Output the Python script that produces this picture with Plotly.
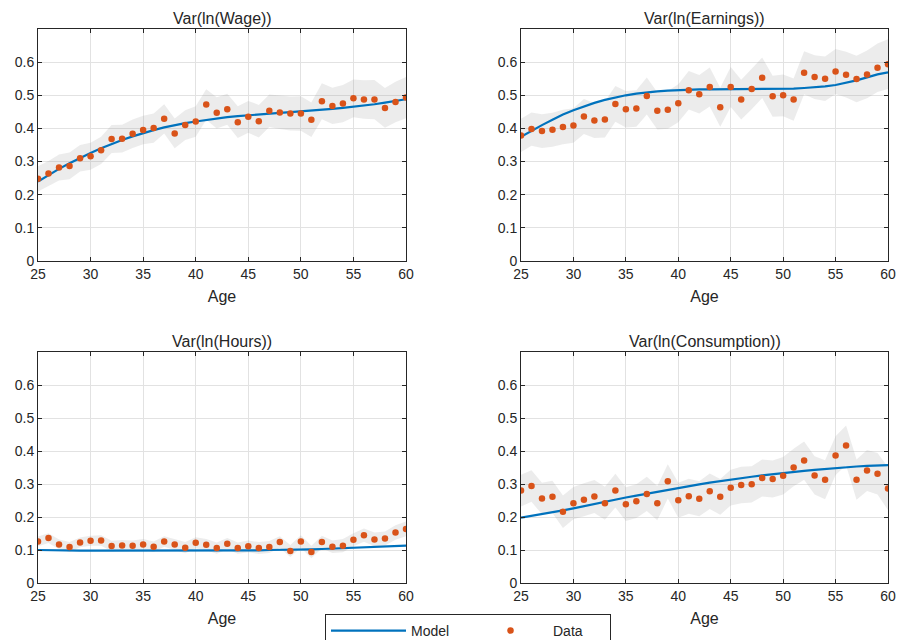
import plotly.graph_objects as go

# Ages on the horizontal axis
ages = list(range(25, 61))

# Var(ln(Wage))
wage_data = [0.248, 0.264, 0.282, 0.287, 0.310, 0.316, 0.334, 0.368, 0.369, 0.384,
             0.395, 0.401, 0.429, 0.385, 0.410, 0.421, 0.472, 0.447, 0.458, 0.419,
             0.435, 0.422, 0.453, 0.448, 0.445, 0.445, 0.426, 0.482, 0.468, 0.475,
             0.491, 0.487, 0.487, 0.462, 0.480, 0.493]
wage_model = [0.240, 0.260, 0.278, 0.295, 0.311, 0.326, 0.340, 0.353, 0.365, 0.376,
              0.386, 0.395, 0.403, 0.410, 0.416, 0.421, 0.426, 0.430, 0.434, 0.437,
              0.440, 0.443, 0.445, 0.447, 0.449, 0.451, 0.453, 0.456, 0.459, 0.462,
              0.465, 0.469, 0.473, 0.478, 0.484, 0.488]
wage_ci = [0.038, 0.038, 0.039, 0.040, 0.040, 0.041, 0.041, 0.042, 0.042, 0.043,
           0.043, 0.044, 0.044, 0.045, 0.045, 0.046, 0.046, 0.047, 0.047, 0.048,
           0.048, 0.049, 0.049, 0.050, 0.051, 0.052, 0.052, 0.054, 0.055, 0.056,
           0.057, 0.058, 0.059, 0.060, 0.061, 0.062]

# Var(ln(Earnings))
earn_data = [0.379, 0.398, 0.392, 0.396, 0.404, 0.409, 0.436, 0.424, 0.427, 0.474,
             0.458, 0.460, 0.498, 0.453, 0.456, 0.476, 0.515, 0.503, 0.525, 0.464,
             0.525, 0.487, 0.519, 0.553, 0.497, 0.500, 0.487, 0.568, 0.555, 0.550,
             0.572, 0.562, 0.549, 0.563, 0.583, 0.594]
earn_model = [0.375, 0.393, 0.410, 0.426, 0.442, 0.455, 0.467, 0.477, 0.486, 0.494,
              0.500, 0.505, 0.509, 0.512, 0.514, 0.516, 0.517, 0.518, 0.518, 0.518,
              0.518, 0.518, 0.518, 0.518, 0.518, 0.519, 0.520, 0.522, 0.524, 0.527,
              0.531, 0.537, 0.545, 0.554, 0.563, 0.569]
earn_ci = [0.050, 0.050, 0.051, 0.051, 0.052, 0.052, 0.053, 0.053, 0.054, 0.054,
           0.055, 0.055, 0.056, 0.056, 0.057, 0.057, 0.058, 0.058, 0.059, 0.059,
           0.060, 0.060, 0.061, 0.061, 0.062, 0.063, 0.064, 0.065, 0.066, 0.067,
           0.068, 0.069, 0.070, 0.072, 0.073, 0.075]

# Var(ln(Hours))
hours_data = [0.126, 0.136, 0.117, 0.109, 0.123, 0.128, 0.129, 0.112, 0.114, 0.113,
              0.117, 0.110, 0.126, 0.117, 0.107, 0.122, 0.116, 0.106, 0.119, 0.106,
              0.111, 0.106, 0.109, 0.124, 0.097, 0.126, 0.094, 0.124, 0.110, 0.113,
              0.131, 0.145, 0.132, 0.135, 0.153, 0.164]
hours_model = [0.100, 0.099, 0.099, 0.099, 0.098, 0.098, 0.098, 0.098, 0.097, 0.097,
               0.097, 0.097, 0.097, 0.097, 0.097, 0.097, 0.097, 0.098, 0.098, 0.098,
               0.099, 0.099, 0.100, 0.100, 0.101, 0.101, 0.102, 0.103, 0.104, 0.105,
               0.106, 0.107, 0.108, 0.110, 0.111, 0.113]
hours_ci = [0.015, 0.015, 0.015, 0.015, 0.015, 0.015, 0.016, 0.016, 0.016, 0.016,
            0.016, 0.016, 0.016, 0.016, 0.017, 0.017, 0.017, 0.017, 0.017, 0.017,
            0.018, 0.018, 0.018, 0.018, 0.018, 0.019, 0.019, 0.019, 0.019, 0.020,
            0.020, 0.020, 0.021, 0.021, 0.022, 0.022]

# Var(ln(Consumption))
cons_data = [0.280, 0.294, 0.256, 0.261, 0.216, 0.242, 0.252, 0.262, 0.242, 0.280,
             0.239, 0.248, 0.270, 0.242, 0.308, 0.251, 0.263, 0.255, 0.278, 0.261,
             0.289, 0.297, 0.299, 0.318, 0.315, 0.325, 0.350, 0.371, 0.326, 0.313,
             0.386, 0.417, 0.313, 0.341, 0.331, 0.286]
cons_model = [0.198, 0.203, 0.208, 0.214, 0.220, 0.226, 0.233, 0.240, 0.246, 0.253,
              0.259, 0.265, 0.271, 0.277, 0.283, 0.288, 0.294, 0.299, 0.304, 0.309,
              0.314, 0.318, 0.322, 0.326, 0.330, 0.334, 0.337, 0.340, 0.343, 0.346,
              0.349, 0.351, 0.353, 0.355, 0.356, 0.357]
cons_ci = [0.048, 0.048, 0.048, 0.049, 0.049, 0.049, 0.050, 0.050, 0.050, 0.051,
           0.051, 0.051, 0.052, 0.052, 0.052, 0.053, 0.053, 0.053, 0.054, 0.054,
           0.054, 0.055, 0.055, 0.056, 0.056, 0.057, 0.057, 0.058, 0.058, 0.059,
           0.059, 0.060, 0.061, 0.062, 0.063, 0.065]

titles = ["Var(ln(Wage))", "Var(ln(Earnings))", "Var(ln(Hours))", "Var(ln(Consumption))"]
x_ticks = [25, 30, 35, 40, 45, 50, 55, 60]
y_ticks = [0, 0.1, 0.2, 0.3, 0.4, 0.5, 0.6]

panels = [
    (wage_data, wage_model, wage_ci),
    (earn_data, earn_model, earn_ci),
    (hours_data, hours_model, hours_ci),
    (cons_data, cons_model, cons_ci),
]

W, H = 897, 640
# plot-area boxes in pixels: (left, right, top, bottom)
boxes = [
    (38, 406, 29, 261),
    (521, 888, 29, 261),
    (38, 406, 352, 583),
    (521, 888, 352, 583),
]

BLUE = "#0072BD"
ORANGE = "#D95319"
INK = "#262626"
FONT = "Liberation Sans, Arial, sans-serif"

fig = go.Figure()
layout = {}

for i, ((data, model, ci), title, box) in enumerate(zip(panels, titles, boxes)):
    n = "" if i == 0 else str(i + 1)
    xa, ya = "x" + n, "y" + n
    lower = [d - c for d, c in zip(data, ci)]
    upper = [d + c for d, c in zip(data, ci)]

    fig.add_trace(go.Scatter(x=ages, y=lower, mode="lines", line=dict(width=0),
                             hoverinfo="skip", showlegend=False, xaxis=xa, yaxis=ya))
    fig.add_trace(go.Scatter(x=ages, y=upper, mode="lines", line=dict(width=0),
                             fill="tonexty", fillcolor="rgba(150,150,150,0.18)",
                             hoverinfo="skip", showlegend=False, xaxis=xa, yaxis=ya))
    fig.add_trace(go.Scatter(x=ages, y=model, mode="lines", name="Model",
                             line=dict(color=BLUE, width=2.2),
                             showlegend=(i == 0), xaxis=xa, yaxis=ya))
    fig.add_trace(go.Scatter(x=ages, y=data, mode="markers", name="Data",
                             marker=dict(color=ORANGE, size=6.5),
                             showlegend=(i == 0), xaxis=xa, yaxis=ya))

    left, right, top, bottom = box
    axis_common = dict(
        showline=True, linecolor=INK, linewidth=1, mirror="ticks",
        ticks="inside", ticklen=4, tickcolor=INK,
        showgrid=True, gridcolor="#e2e2e2", gridwidth=1,
        zeroline=False, tickfont=dict(family=FONT, size=14, color=INK),
    )
    layout["xaxis" + n] = dict(
        axis_common, domain=[left / W, right / W], range=[25, 60],
        tickvals=x_ticks, anchor=ya,
        title=dict(text="Age", font=dict(family=FONT, size=16, color=INK), standoff=10),
    )
    layout["yaxis" + n] = dict(
        axis_common, domain=[1 - bottom / H, 1 - top / H], range=[0, 0.7],
        tickvals=y_ticks, ticktext=["0", "0.1", "0.2", "0.3", "0.4", "0.5", "0.6"],
        anchor=xa,
    )
    fig.add_annotation(
        text=title, xref="paper", yref="paper",
        x=(left + right) / 2 / W, y=1 - top / H, xanchor="center", yanchor="bottom",
        showarrow=False, yshift=0,
        font=dict(family=FONT, size=16, color=INK),
    )

fig.update_layout(
    **layout,
    width=W, height=H,
    margin=dict(l=0, r=0, t=0, b=0, autoexpand=False),
    plot_bgcolor="white", paper_bgcolor="white",
    showlegend=True,
    legend=dict(
        orientation="h", x=325 / W, y=1 - 614 / H, xanchor="left", yanchor="top",
        traceorder="normal",
        bordercolor=INK, borderwidth=1, bgcolor="white",
        font=dict(family=FONT, size=14, color=INK),
        entrywidth=52, entrywidthmode="pixels", itemwidth=75,
    ),
)

fig.write_html("out.html")
